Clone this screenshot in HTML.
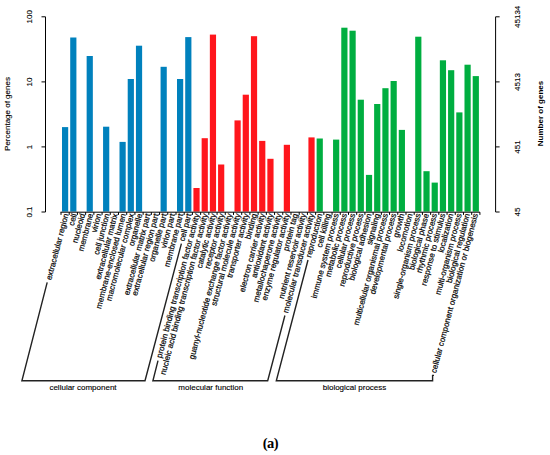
<!DOCTYPE html>
<html><head><meta charset="utf-8"><style>
html,body{margin:0;padding:0;background:#fff;width:550px;height:455px;overflow:hidden;}
svg{display:block;}
.lb{stroke:#000;stroke-width:0.2px;font-size:8.1px;}
</style></head><body>
<svg width="550" height="455" viewBox="0 0 550 455">
<g>
<rect x="62.00" y="127.10" width="6.2" height="84.50" fill="#0081bd"/>
<rect x="70.21" y="37.50" width="6.2" height="174.10" fill="#0081bd"/>
<rect x="86.64" y="56.00" width="6.2" height="155.60" fill="#0081bd"/>
<rect x="103.07" y="126.70" width="6.2" height="84.90" fill="#0081bd"/>
<rect x="119.50" y="141.90" width="6.2" height="69.70" fill="#0081bd"/>
<rect x="127.71" y="79.00" width="6.2" height="132.60" fill="#0081bd"/>
<rect x="135.93" y="45.70" width="6.2" height="165.90" fill="#0081bd"/>
<rect x="160.57" y="66.80" width="6.2" height="144.80" fill="#0081bd"/>
<rect x="177.00" y="79.00" width="6.2" height="132.60" fill="#0081bd"/>
<rect x="185.21" y="37.10" width="6.2" height="174.50" fill="#0081bd"/>
<rect x="193.42" y="188.00" width="6.2" height="23.60" fill="#ff161c"/>
<rect x="201.64" y="138.20" width="6.2" height="73.40" fill="#ff161c"/>
<rect x="209.85" y="34.60" width="6.2" height="177.00" fill="#ff161c"/>
<rect x="218.07" y="164.50" width="6.2" height="47.10" fill="#ff161c"/>
<rect x="234.49" y="120.40" width="6.2" height="91.20" fill="#ff161c"/>
<rect x="242.71" y="94.70" width="6.2" height="116.90" fill="#ff161c"/>
<rect x="250.92" y="36.20" width="6.2" height="175.40" fill="#ff161c"/>
<rect x="259.14" y="140.90" width="6.2" height="70.70" fill="#ff161c"/>
<rect x="267.35" y="158.80" width="6.2" height="52.80" fill="#ff161c"/>
<rect x="283.78" y="144.80" width="6.2" height="66.80" fill="#ff161c"/>
<rect x="308.42" y="137.40" width="6.2" height="74.20" fill="#ff161c"/>
<rect x="316.63" y="138.50" width="6.2" height="73.10" fill="#00ae40"/>
<rect x="333.06" y="139.60" width="6.2" height="72.00" fill="#00ae40"/>
<rect x="341.28" y="27.70" width="6.2" height="183.90" fill="#00ae40"/>
<rect x="349.49" y="30.70" width="6.2" height="180.90" fill="#00ae40"/>
<rect x="357.70" y="99.70" width="6.2" height="111.90" fill="#00ae40"/>
<rect x="365.92" y="174.90" width="6.2" height="36.70" fill="#00ae40"/>
<rect x="374.13" y="104.00" width="6.2" height="107.60" fill="#00ae40"/>
<rect x="382.35" y="88.20" width="6.2" height="123.40" fill="#00ae40"/>
<rect x="390.56" y="81.00" width="6.2" height="130.60" fill="#00ae40"/>
<rect x="398.77" y="129.90" width="6.2" height="81.70" fill="#00ae40"/>
<rect x="415.20" y="36.70" width="6.2" height="174.90" fill="#00ae40"/>
<rect x="423.42" y="171.20" width="6.2" height="40.40" fill="#00ae40"/>
<rect x="431.63" y="182.60" width="6.2" height="29.00" fill="#00ae40"/>
<rect x="439.84" y="60.30" width="6.2" height="151.30" fill="#00ae40"/>
<rect x="448.06" y="70.20" width="6.2" height="141.40" fill="#00ae40"/>
<rect x="456.27" y="112.40" width="6.2" height="99.20" fill="#00ae40"/>
<rect x="464.49" y="64.70" width="6.2" height="146.90" fill="#00ae40"/>
<rect x="472.70" y="76.10" width="6.2" height="135.50" fill="#00ae40"/>
</g>
<g stroke="#000" stroke-width="1" fill="none">
<path d="M45.5 16.8V212M41.5 16.8H45.5M41.5 81.9H45.5M41.5 146.9H45.5M41.5 212H45.5"/>
<path d="M495.6 16.8V212M495.6 16.8H499.6M495.6 81.9H499.6M495.6 146.9H499.6M495.6 212H499.6"/>
<path d="M60.5 212.2H480"/>
<path d="M61.00 212.2V214.9M69.21 212.2V214.9M77.43 212.2V214.9M85.64 212.2V214.9M93.86 212.2V214.9M102.07 212.2V214.9M110.28 212.2V214.9M118.50 212.2V214.9M126.71 212.2V214.9M134.93 212.2V214.9M143.14 212.2V214.9M151.35 212.2V214.9M159.57 212.2V214.9M167.78 212.2V214.9M176.00 212.2V214.9M184.21 212.2V214.9M192.42 212.2V214.9M200.64 212.2V214.9M208.85 212.2V214.9M217.07 212.2V214.9M225.28 212.2V214.9M233.49 212.2V214.9M241.71 212.2V214.9M249.92 212.2V214.9M258.14 212.2V214.9M266.35 212.2V214.9M274.56 212.2V214.9M282.78 212.2V214.9M290.99 212.2V214.9M299.21 212.2V214.9M307.42 212.2V214.9M315.63 212.2V214.9M323.85 212.2V214.9M332.06 212.2V214.9M340.28 212.2V214.9M348.49 212.2V214.9M356.70 212.2V214.9M364.92 212.2V214.9M373.13 212.2V214.9M381.35 212.2V214.9M389.56 212.2V214.9M397.77 212.2V214.9M405.99 212.2V214.9M414.20 212.2V214.9M422.42 212.2V214.9M430.63 212.2V214.9M438.84 212.2V214.9M447.06 212.2V214.9M455.27 212.2V214.9M463.49 212.2V214.9M471.70 212.2V214.9M479.91 212.2V214.9"/>

<g stroke-width="1.4" stroke="#222">
<path d="M47.2 282.3L21.9 380.8H145L181.4 243.6"/>
<path d="M158 360.6L152.9 380.8H267.7L284.9 315.5"/>
<path d="M308 260L276.3 380.8H432.6V375.4H434"/>
</g>
</g>
<g font-family="'Liberation Sans', sans-serif" font-size="8" fill="#000" stroke="#000" stroke-width="0.12">
<text class="lb" transform="translate(68.65,214.4) rotate(-75.2)" text-anchor="end">extracellular region</text>
<text class="lb" transform="translate(76.84,214.4) rotate(-75.2)" text-anchor="end">cell</text>
<text class="lb" transform="translate(85.03,214.4) rotate(-75.2)" text-anchor="end">nucleoid</text>
<text class="lb" transform="translate(93.21,214.4) rotate(-75.2)" text-anchor="end">membrane</text>
<text class="lb" transform="translate(101.40,214.4) rotate(-75.2)" text-anchor="end">virion</text>
<text class="lb" transform="translate(109.59,214.4) rotate(-75.2)" text-anchor="end">cell junction</text>
<text class="lb" transform="translate(117.78,214.4) rotate(-75.2)" text-anchor="end">extracellular matrix</text>
<text class="lb" transform="translate(125.97,214.4) rotate(-75.2)" text-anchor="end">membrane-enclosed lumen</text>
<text class="lb" transform="translate(134.15,214.4) rotate(-75.2)" text-anchor="end">macromolecular complex</text>
<text class="lb" transform="translate(142.34,214.4) rotate(-75.2)" text-anchor="end">organelle</text>
<text class="lb" transform="translate(150.53,214.4) rotate(-75.2)" text-anchor="end">extracellular matrix part</text>
<text class="lb" transform="translate(158.72,214.4) rotate(-75.2)" text-anchor="end">extracellular region part</text>
<text class="lb" transform="translate(166.91,214.4) rotate(-75.2)" text-anchor="end">organelle part</text>
<text class="lb" transform="translate(175.09,214.4) rotate(-75.2)" text-anchor="end">virion part</text>
<text class="lb" transform="translate(183.28,214.4) rotate(-75.2)" text-anchor="end">membrane part</text>
<text class="lb" transform="translate(191.47,214.4) rotate(-75.2)" text-anchor="end">cell part</text>
<text class="lb" transform="translate(199.66,214.4) rotate(-75.2)" text-anchor="end">protein binding transcription factor activity</text>
<text class="lb" transform="translate(207.85,214.4) rotate(-75.2)" text-anchor="end">nucleic acid binding transcription factor activity</text>
<text class="lb" transform="translate(216.03,214.4) rotate(-75.2)" text-anchor="end">catalytic activity</text>
<text class="lb" transform="translate(224.22,214.4) rotate(-75.2)" text-anchor="end">receptor activity</text>
<text class="lb" transform="translate(232.41,214.4) rotate(-75.2)" text-anchor="end">guanyl-nucleotide exchange factor activity</text>
<text class="lb" transform="translate(240.60,214.4) rotate(-75.2)" text-anchor="end">structural molecule activity</text>
<text class="lb" transform="translate(248.79,214.4) rotate(-75.2)" text-anchor="end">transporter activity</text>
<text class="lb" transform="translate(256.97,214.4) rotate(-75.2)" text-anchor="end">binding</text>
<text class="lb" transform="translate(265.16,214.4) rotate(-75.2)" text-anchor="end">electron carrier activity</text>
<text class="lb" transform="translate(273.35,214.4) rotate(-75.2)" text-anchor="end">antioxidant activity</text>
<text class="lb" transform="translate(281.54,214.4) rotate(-75.2)" text-anchor="end">metallochaperone activity</text>
<text class="lb" transform="translate(289.73,214.4) rotate(-75.2)" text-anchor="end">enzyme regulator activity</text>
<text class="lb" transform="translate(297.91,214.4) rotate(-75.2)" text-anchor="end">protein tag</text>
<text class="lb" transform="translate(306.10,214.4) rotate(-75.2)" text-anchor="end">nutrient reservoir activity</text>
<text class="lb" transform="translate(314.29,214.4) rotate(-75.2)" text-anchor="end">molecular transducer activity</text>
<text class="lb" transform="translate(322.48,214.4) rotate(-75.2)" text-anchor="end">reproduction</text>
<text class="lb" transform="translate(330.67,214.4) rotate(-75.2)" text-anchor="end">cell killing</text>
<text class="lb" transform="translate(338.85,214.4) rotate(-75.2)" text-anchor="end">immune system process</text>
<text class="lb" transform="translate(347.04,214.4) rotate(-75.2)" text-anchor="end">metabolic process</text>
<text class="lb" transform="translate(355.23,214.4) rotate(-75.2)" text-anchor="end">cellular process</text>
<text class="lb" transform="translate(363.42,214.4) rotate(-75.2)" text-anchor="end">reproductive process</text>
<text class="lb" transform="translate(371.61,214.4) rotate(-75.2)" text-anchor="end">biological adhesion</text>
<text class="lb" transform="translate(379.79,214.4) rotate(-75.2)" text-anchor="end">signaling</text>
<text class="lb" transform="translate(387.98,214.4) rotate(-75.2)" text-anchor="end">multicellular organismal process</text>
<text class="lb" transform="translate(396.17,214.4) rotate(-75.2)" text-anchor="end">developmental process</text>
<text class="lb" transform="translate(404.36,214.4) rotate(-75.2)" text-anchor="end">growth</text>
<text class="lb" transform="translate(412.55,214.4) rotate(-75.2)" text-anchor="end">locomotion</text>
<text class="lb" transform="translate(420.73,214.4) rotate(-75.2)" text-anchor="end">single-organism process</text>
<text class="lb" transform="translate(428.92,214.4) rotate(-75.2)" text-anchor="end">biological phase</text>
<text class="lb" transform="translate(437.11,214.4) rotate(-75.2)" text-anchor="end">rhythmic process</text>
<text class="lb" transform="translate(445.30,214.4) rotate(-75.2)" text-anchor="end">response to stimulus</text>
<text class="lb" transform="translate(453.49,214.4) rotate(-75.2)" text-anchor="end">localization</text>
<text class="lb" transform="translate(461.67,214.4) rotate(-75.2)" text-anchor="end">multi-organism process</text>
<text class="lb" transform="translate(469.86,214.4) rotate(-75.2)" text-anchor="end">biological regulation</text>
<text class="lb" transform="translate(478.05,214.4) rotate(-75.2)" text-anchor="end">cellular component organization or biogenesis</text>
<text transform="translate(32,16.8) rotate(-90)" text-anchor="middle">100</text>
<text transform="translate(32,82) rotate(-90)" text-anchor="middle">10</text>
<text transform="translate(31.6,147) rotate(-90)" text-anchor="middle">1</text>
<text transform="translate(32,212) rotate(-90)" text-anchor="middle">0.1</text>
<text transform="translate(10,114) rotate(-90)" text-anchor="middle">Percentage of genes</text>
<text transform="translate(519.8,16.8) rotate(-90)" text-anchor="middle">45134</text>
<text transform="translate(519.8,82) rotate(-90)" text-anchor="middle">4513</text>
<text transform="translate(519.8,147) rotate(-90)" text-anchor="middle">451</text>
<text transform="translate(519.8,212) rotate(-90)" text-anchor="middle">45</text>
<text transform="translate(543,113.5) rotate(-90)" text-anchor="middle" font-weight="bold" stroke-width="0">Number of genes</text>
<text x="83" y="389.5" text-anchor="middle">cellular component</text>
<text x="210.8" y="389.5" text-anchor="middle">molecular function</text>
<text x="354.5" y="389.5" text-anchor="middle">biological process</text>
</g>
<text x="270.5" y="448.3" text-anchor="middle" font-family="'Liberation Serif', serif" font-weight="bold" font-size="14.5" letter-spacing="-0.5">(a)</text>
</svg>
</body></html>
